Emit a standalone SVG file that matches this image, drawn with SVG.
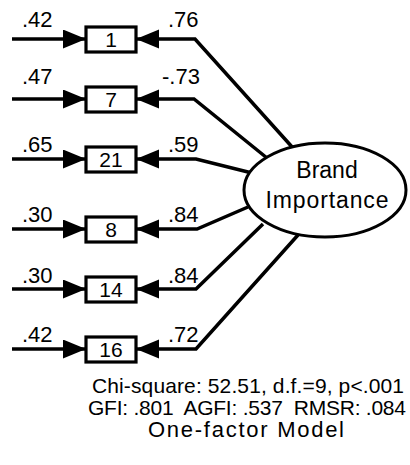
<svg xmlns="http://www.w3.org/2000/svg" width="410" height="465" viewBox="0 0 410 465">
  <style>
    .wire { fill: none; stroke: #000; stroke-width: 3.5; stroke-linejoin: miter; marker-end: url(#head); }
    .box { fill: #fff; stroke: #000; stroke-width: 3.2; }
    .lbl { font-family: "Liberation Sans", Arial, sans-serif; font-size: 22px; fill: #000; }
    .num { font-family: "Liberation Sans", Arial, sans-serif; font-size: 21px; fill: #000; text-anchor: middle; }
    .big { font-family: "Liberation Sans", Arial, sans-serif; font-size: 23px; fill: #000; text-anchor: middle; }
    .foot { font-family: "Liberation Sans", Arial, sans-serif; font-size: 21px; fill: #000; text-anchor: middle; }
  </style>
  <defs>
    <marker id="head" markerUnits="userSpaceOnUse" markerWidth="24" markerHeight="20" refX="23" refY="9.5" orient="auto">
      <path d="M0,0 L23,9.5 L0,19 Z" fill="#000"/>
    </marker>
  </defs>
  <rect width="410" height="465" fill="#fff"/>

  <g id="connectors">
    <!-- error terms -->
    <path class="wire" d="M12,39 H86"/>
    <path class="wire" d="M12,99 H86"/>
    <path class="wire" d="M12,159 H86"/>
    <path class="wire" d="M12,229 H86"/>
    <path class="wire" d="M12,289 H86"/>
    <path class="wire" d="M12,349 H86"/>
    <!-- factor loadings -->
    <path class="wire" d="M293,148 L195,39 H136"/>
    <path class="wire" d="M267,158 L194,99 H136"/>
    <path class="wire" d="M252,173 L196,159 H136"/>
    <path class="wire" d="M248,207 L197,229 H136"/>
    <path class="wire" d="M263,224 L196,289 H136"/>
    <path class="wire" d="M298,235 L196,349 H136"/>
  </g>

  <g id="labels">
    <text class="lbl" x="22" y="27">.42</text>
    <text class="lbl" x="22" y="84">.47</text>
    <text class="lbl" x="22" y="152">.65</text>
    <text class="lbl" x="22" y="222">.30</text>
    <text class="lbl" x="22" y="283">.30</text>
    <text class="lbl" x="22" y="342">.42</text>
    <text class="lbl" x="168" y="27">.76</text>
    <text class="lbl" x="162" y="84">-.73</text>
    <text class="lbl" x="168" y="152">.59</text>
    <text class="lbl" x="168" y="222">.84</text>
    <text class="lbl" x="168" y="283">.84</text>
    <text class="lbl" x="168" y="342">.72</text>
  </g>

  <g id="item-1"><rect class="box" x="86" y="27" width="50" height="25"/><text class="num" x="111" y="47">1</text></g>
  <g id="item-7"><rect class="box" x="86" y="87" width="50" height="25"/><text class="num" x="111" y="107">7</text></g>
  <g id="item-21"><rect class="box" x="86" y="147" width="50" height="25"/><text class="num" x="111" y="167">21</text></g>
  <g id="item-8"><rect class="box" x="86" y="217" width="50" height="25"/><text class="num" x="111" y="237">8</text></g>
  <g id="item-14"><rect class="box" x="86" y="277" width="50" height="25"/><text class="num" x="111" y="297">14</text></g>
  <g id="item-16"><rect class="box" x="86" y="337" width="50" height="25"/><text class="num" x="111" y="357">16</text></g>

  <g id="brand-importance">
    <ellipse cx="325" cy="190" rx="81" ry="47" fill="#fff" stroke="#000" stroke-width="3"/>
    <text class="big" x="327" y="178">Brand</text>
    <text class="big" x="327" y="208" textLength="123">Importance</text>
  </g>

  <g id="fit-statistics">
    <text class="foot" x="248" y="393" textLength="312">Chi-square: 52.51, d.f.=9, p&lt;.001</text>
    <text class="foot" x="247" y="415" textLength="318" xml:space="preserve">GFI: .801  AGFI: .537  RMSR: .084</text>
    <text class="foot" x="246" y="437" style="font-size:22px" textLength="196">One-factor Model</text>
  </g>
</svg>
